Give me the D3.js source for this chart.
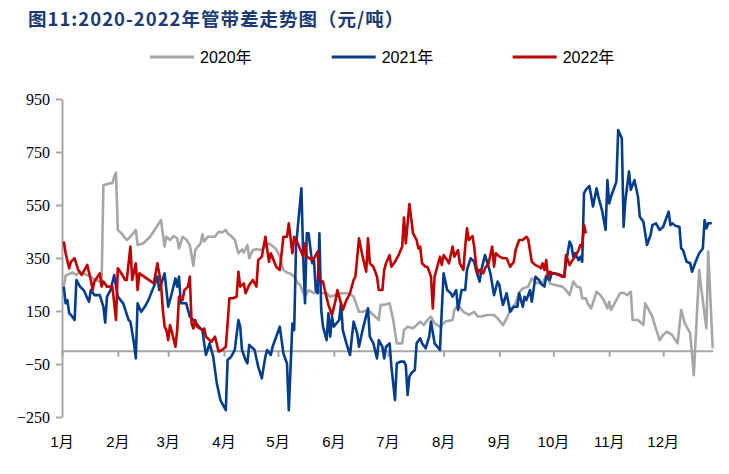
<!DOCTYPE html>
<html><head><meta charset="utf-8">
<script src="https://cdn.jsdelivr.net/npm/d3@7/dist/d3.min.js"></script>
<style>
html,body{margin:0;padding:0;background:#fff;}
svg{display:block;}
</style></head>
<body>
<svg id="chart" width="729" height="474"></svg>
<script>
// ---- data (x = day of year, 0 = Jan 1; value in 元/吨) ----
const monthLabels = ["1月","2月","3月","4月","5月","6月","7月","8月","9月","10月","11月","12月"];
const yTicks = [-250, -50, 150, 350, 550, 750, 950];
const seriesNames = ["2020年", "2021年", "2022年"];

const data2020 = [[1,242],[2,283],[4,290],[6,295],[8,286],[10,298],[12,292],[14,286],[16,280],[17,273],[19,267],[21,261],[22,254],[23,625],[27,632],[28,632],[29,657],[30,672],[31,456],[33,443],[36,418],[38,430],[41,456],[42,399],[45,405],[49,430],[52,462],[55,493],[57,393],[58,430],[60,418],[62,433],[64,424],[65,386],[67,430],[69,420],[71,399],[73,320],[74,380],[77,405],[78,440],[79,412],[81,430],[85,430],[87,449],[89,446],[91,456],[92,443],[94,433],[96,418],[98,368],[100,383],[101,370],[103,399],[104,349],[106,380],[108,383],[111,380],[113,393],[115,405],[117,395],[119,383],[121,355],[123,305],[125,295],[127,290],[129,280],[131,254],[132,252],[135,204],[137,229],[140,217],[142,229],[144,217],[147,217],[149,204],[152,210],[155,217],[159,217],[162,204],[165,147],[167,147],[170,154],[173,135],[176,116],[177,173],[179,173],[182,179],[184,116],[186,28],[189,28],[190,78],[192,91],[195,85],[197,97],[199,110],[201,97],[203,116],[205,129],[207,103],[210,91],[213,110],[217,116],[218,154],[220,173],[223,147],[226,135],[229,147],[231,129],[233,129],[236,135],[240,135],[242,122],[245,97],[247,122],[249,154],[252,179],[254,220],[256,235],[259,242],[261,273],[264,254],[266,261],[267,254],[269,286],[271,254],[274,248],[278,242],[280,229],[282,210],[284,261],[286,242],[288,239],[289,198],[291,198],[292,179],[294,160],[297,223],[299,210],[301,191],[303,160],[304,185],[305,154],[307,179],[310,217],[312,219],[314,210],[316,223],[317,116],[320,116],[323,97],[324,179],[326,154],[328,129],[329,103],[332,40],[334,60],[336,72],[339,59],[342,28],[344,154],[346,104],[349,66],[351,-92],[354,305],[355,242],[358,85],[359,374],[361.5,9]];

const data2021 = [[1,242],[2,179],[3,191],[4,141],[5,135],[7,116],[8,267],[10,242],[12,229],[15,185],[16,229],[18,210],[21,210],[23,166],[24,106],[25,204],[27,229],[29,286],[31,204],[34,179],[37,116],[38,110],[40,28],[41,-29],[42,179],[44,147],[46,166],[48,191],[51,242],[53,280],[54,229],[57,292],[59,166],[61,217],[63,273],[64,242],[65,280],[66,179],[69,179],[71,129],[73,116],[76,91],[78,78],[79,28],[80,-16],[82,28],[84,-22],[86,-123],[88,-186],[91,-224],[92,-35],[94,-22],[96,3],[98,116],[99,91],[100,3],[102,-35],[103,-48],[104,22],[107,3],[109,-60],[111,-104],[113,-22],[114,3],[116,-16],[117,15],[119,53],[121,91],[123,-10],[125,-48],[126,-224],[127,-60],[128,103],[129,78],[130,393],[133,613],[134,355],[135,179],[136,443],[137,443],[139,330],[140,342],[141,229],[142,217],[143,443],[144,154],[145,91],[147,40],[148,141],[149,53],[150,129],[151,91],[154,116],[155,179],[156,78],[158,28],[160,-16],[162,110],[164,66],[165,15],[167,78],[170,160],[171,53],[173,28],[175,-29],[176,40],[178,15],[179,-29],[180,15],[182,28],[183,-60],[184,-123],[185,-186],[186,-48],[188,-41],[190,-41],[191,-54],[192,-167],[193,-98],[194,-85],[196,-73],[197,28],[199,47],[200,28],[202,9],[204,53],[205,110],[207,28],[210,3],[211,154],[212,292],[214,229],[216,217],[217,204],[219,229],[220,154],[222,229],[224,229],[225,305],[227,349],[229,336],[230,305],[232,261],[233,305],[235,361],[237,317],[238,292],[240,210],[242,261],[243,248],[244,204],[245,173],[247,217],[249,147],[251,166],[253,166],[254,217],[255,191],[256,166],[257,204],[258,191],[260,229],[261,185],[263,279],[265,267],[266,254],[268,242],[269,279],[271,267],[272,292],[274,292],[277,286],[279,279],[280,330],[282,412],[283,399],[284,355],[285,368],[287,342],[288,355],[289,336],[290,594],[291,607],[293,622],[295,544],[297,613],[298,581],[300,531],[301,493],[302,456],[303,644],[304,556],[305,581],[307,619],[308,638],[309,833],[311,802],[312,468],[313,569],[315,676],[316,607],[318,644],[320,581],[321,506],[323,487],[325,399],[327,437],[328,474],[330,481],[332,456],[334,468],[335,487],[337,525],[338,474],[339,481],[341,471],[343,468],[344,386],[345,380],[347,336],[349,330],[350,298],[352,336],[354,368],[356,386],[357,493],[358,462],[359,481],[361,481]];

const data2022 = [[1,412],[2,368],[4,311],[5,336],[7,349],[9,305],[11,286],[14,324],[16,267],[17,229],[18,261],[21,292],[22,242],[23,261],[25,242],[28,242],[30,116],[31,311],[33,292],[35,267],[36,267],[38,393],[39,267],[41,330],[42,229],[43,292],[47,273],[51,254],[53,330],[54,292],[55,254],[56,154],[57,91],[58,78],[59,40],[60,97],[61,72],[63,15],[64,78],[65,204],[67,191],[68,229],[70,242],[71,280],[72,103],[73,84],[74,116],[75,91],[78,78],[79,84],[80,53],[83,34],[85,53],[87,-3],[89,3],[91,15],[92,103],[93,198],[95,198],[97,204],[98,298],[99,242],[101,254],[102,217],[104,248],[106,267],[108,242],[109,342],[111,355],[113,430],[115,336],[116,368],[119,317],[121,305],[123,430],[125,430],[126,481],[128,368],[129,430],[131,405],[134,355],[135,405],[136,355],[139,342],[140,349],[142,374],[143,267],[145,261],[146,229],[148,173],[150,135],[152,191],[153,229],[155,179],[156,154],[158,191],[160,217],[162,267],[163,280],[165,424],[167,355],[169,298],[170,424],[171,330],[173,317],[175,280],[176,229],[178,229],[179,305],[180,330],[182,361],[183,317],[185,336],[187,361],[189,393],[190,503],[191,405],[193,554],[195,443],[197,418],[198,386],[199,393],[200,330],[202,317],[203,317],[205,280],[206,160],[207,280],[209,330],[210,355],[211,324],[212,361],[214,342],[215,330],[217,393],[218,355],[220,380],[221,330],[223,305],[224,393],[225,462],[226,418],[228,433],[229,393],[230,324],[231,292],[232,305],[234,292],[235,311],[237,330],[239,393],[240,317],[241,368],[243,355],[245,349],[247,349],[249,317],[251,336],[252,380],[254,418],[256,418],[258,430],[259,420],[261,336],[263,323],[265,317],[266,311],[267,330],[268,305],[269,342],[270,279],[271,298],[273,292],[276,286],[278,279],[279,279],[280,361],[282,323],[283,336],[285,355],[287,380],[288,399],[289,393],[290,474],[291,443]];

const seriesColors = ["#A6A6A6", "#033D8B", "#C00000"];

// ---- chart ----
const svg = d3.select("#chart");
svg.append("rect").attr("width",729).attr("height",474).attr("fill","#fff");

const baseYear = 2021;
const toDate = d => new Date(new Date(baseYear,0,1).getTime() + d * 86400000);

// axis spans Jan 1 to the last data day (Dec 28, noon)
const x = d3.scaleTime()
  .domain([new Date(baseYear,0,1), new Date(baseYear,11,28,12)])
  .range([62, 712.7]);
const y = d3.scaleLinear().domain([-250, 950]).range([417, 99]);

const axisColor = "#A6A6A6";

// title
svg.append("text")
  .attr("x", 28).attr("y", 26)
  .attr("font-family", "'Noto Sans CJK SC', sans-serif")
  .attr("font-weight", "bold")
  .attr("font-size", 18.5)
  .attr("letter-spacing", 1)
  .attr("fill", "#1B3A73")
  .text("图11:2020-2022年管带差走势图（元/吨）");

// legend
const legendX = [150, 331.7, 512.7];
seriesNames.forEach((n, i) => {
  const g = svg.append("g").attr("transform", `translate(${legendX[i]},57)`);
  g.append("line").attr("x1",0).attr("x2",44).attr("y1",0).attr("y2",0)
    .attr("stroke", seriesColors[i]).attr("stroke-width",3);
  g.append("text").attr("x",50).attr("y",5.5)
    .attr("font-family","'Liberation Sans', Arial, 'Noto Sans CJK SC', sans-serif")
    .attr("font-size",16).attr("fill","#000").text(n);
});

// y axis
const yAxis = d3.axisLeft(y).tickValues(yTicks).tickSize(6).tickSizeOuter(0).tickPadding(6);
const gy = svg.append("g").attr("transform","translate(62,0)").call(yAxis);
gy.select(".domain").attr("stroke", axisColor).attr("stroke-width", 2);
gy.selectAll(".tick line").attr("stroke", axisColor).attr("stroke-width", 2);
gy.selectAll(".tick text")
  .attr("font-family","'Liberation Serif','Times New Roman',serif")
  .attr("font-size",16).attr("fill","#000");

// x axis at zero
const xAxis = d3.axisBottom(x).ticks(d3.timeMonth.every(1)).tickSize(6).tickSizeOuter(0).tickFormat("");
const gx = svg.append("g").attr("transform",`translate(0,${y(0)})`).call(xAxis);
gx.select(".domain").attr("stroke", axisColor).attr("stroke-width", 2);
gx.selectAll(".tick line").attr("stroke", axisColor).attr("stroke-width", 2);

// month labels at bottom
const months = d3.timeMonth.range(new Date(baseYear,0,1), new Date(baseYear+1,0,1));
svg.append("g").selectAll("text").data(months).join("text")
  .attr("x", d => x(d)).attr("y", 447)
  .attr("text-anchor","middle")
  .attr("font-family","'Liberation Sans', Arial, 'Noto Sans CJK SC', sans-serif")
  .attr("font-size",15).attr("fill","#000")
  .text((d,i) => monthLabels[i]);

// lines
const line = d3.line().x(d => x(toDate(d[0]))).y(d => y(d[1])).curve(d3.curveLinear);
[data2020, data2021, data2022].forEach((s, i) => {
  svg.append("path").datum(s)
    .attr("fill","none").attr("stroke", seriesColors[i])
    .attr("stroke-width", 2.6).attr("stroke-linejoin","round")
    .attr("d", line);
});
</script>
</body></html>
